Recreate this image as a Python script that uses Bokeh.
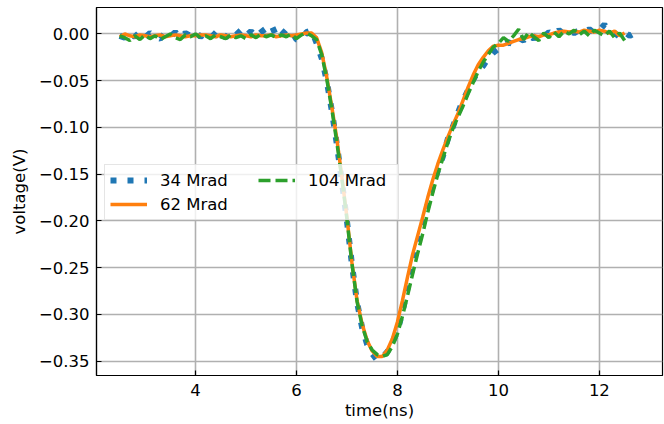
import numpy as np
from bokeh.plotting import figure
from bokeh.models import Range1d, FixedTicker, Legend, LegendItem
from bokeh.embed import file_html
from bokeh.resources import INLINE

# sampling grid (ns)
time_ns = np.round(np.arange(2.5, 12.75, 0.1), 2)

series_names = ["34 Mrad", "62 Mrad", "104 Mrad"]

v_34 = [
    -0.002, -0.004, 0.001, -0.003, 0.002, -0.004, 0.001, -0.003, -0.005, 0.001,
    -0.003, 0.002, -0.004, 0.001, -0.002, 0.002, -0.003, 0.001, 0.003, -0.002,
    0.002, -0.004, 0.003, -0.001, 0.004, -0.002, 0.003, -0.003, 0.002, 0.006,
    0.010, -0.002, 0.004, -0.001, 0.003, -0.006, -0.007, 0.002, 0.004, -0.010,
    -0.026, -0.050, -0.082, -0.118, -0.158, -0.200, -0.247, -0.287, -0.314, -0.332,
    -0.342, -0.349, -0.346, -0.340, -0.330, -0.318, -0.297, -0.272, -0.249, -0.226,
    -0.205, -0.183, -0.163, -0.146, -0.131, -0.112, -0.099, -0.084, -0.071, -0.060,
    -0.049, -0.040, -0.034, -0.026, -0.020, -0.016, -0.013, -0.009, -0.011, -0.004,
    -0.007, -0.001, -0.005, 0.001, -0.003, 0.002, -0.001, 0.004, 0.000, 0.003,
    0.001, 0.004, 0.002, 0.005, 0.001, 0.004, 0.010, 0.003, 0.001, -0.003,
    0.002, -0.002, 0.001,
]

v_62 = [
    -0.003, 0.000, -0.002, -0.003, -0.001, -0.002, -0.003, -0.002, -0.001, -0.003,
    -0.002, -0.001, -0.002, -0.003, -0.002, -0.002, -0.001, -0.001, -0.002, -0.003,
    -0.001, -0.002, -0.003, -0.002, -0.001, -0.002, -0.003, -0.001, -0.002, -0.002,
    -0.001, -0.003, -0.002, -0.001, -0.002, -0.001, 0.000, 0.001, 0.001, -0.004,
    -0.020, -0.046, -0.078, -0.112, -0.153, -0.196, -0.245, -0.285, -0.310, -0.328,
    -0.339, -0.345, -0.345, -0.338, -0.326, -0.308, -0.285, -0.260, -0.236, -0.216,
    -0.196, -0.175, -0.156, -0.139, -0.124, -0.110, -0.097, -0.085, -0.071, -0.057,
    -0.044, -0.033, -0.025, -0.018, -0.013, -0.012, -0.012, -0.010, -0.008, -0.006,
    -0.005, -0.003, -0.002, -0.003, -0.001, -0.001, 0.001, 0.002, 0.003, 0.002,
    0.003, 0.002, 0.004, 0.003, 0.002, 0.004, 0.003, 0.001, 0.003, -0.002,
    0.001,
]

v_104 = [
    -0.002, -0.004, -0.007, -0.002, -0.006, -0.001, -0.005, -0.002, -0.006, -0.003,
    0.000, -0.004, -0.006, -0.001, -0.003, 0.000, -0.004, -0.002, -0.005, -0.001,
    -0.003, -0.005, -0.001, -0.004, -0.002, -0.005, -0.001, -0.004, 0.000, -0.003,
    -0.001, -0.004, -0.001, -0.003, 0.000, -0.005, -0.001, 0.001, -0.002, -0.006,
    -0.022, -0.048, -0.080, -0.116, -0.155, -0.198, -0.246, -0.286, -0.312, -0.329,
    -0.338, -0.343, -0.345, -0.343, -0.334, -0.321, -0.302, -0.280, -0.257, -0.235,
    -0.214, -0.191, -0.170, -0.150, -0.133, -0.116, -0.101, -0.089, -0.077, -0.064,
    -0.052, -0.040, -0.030, -0.022, -0.014, -0.010, -0.004, -0.008, -0.002, 0.005,
    -0.006, 0.002, -0.003, -0.007, 0.001, -0.004, 0.002, -0.003, 0.003, 0.000,
    0.004, -0.001, 0.003, -0.002, 0.004, 0.001, -0.002, 0.003, -0.004, 0.001,
    -0.007,
]

x_ticks = [4, 6, 8, 10, 12]
y_ticks = [0.0, -0.05, -0.10, -0.15, -0.20, -0.25, -0.30, -0.35]
y_tick_labels = ["0.00", "\u22120.05", "\u22120.10", "\u22120.15", "\u22120.20",
                 "\u22120.25", "\u22120.30", "\u22120.35"]

colors = ["#1f77b4", "#ff7f0e", "#2ca02c"]
FONT = "DejaVu Sans"
FS = "16.5px"

p = figure(width=664, height=424, output_backend="svg", toolbar_location=None,
           x_range=Range1d(2.04, 13.25), y_range=Range1d(-0.3653, 0.0283),
           min_border_left=96, min_border_right=2, min_border_top=7,
           min_border_bottom=49)

r1 = p.line(time_ns[:len(v_34)], v_34, line_color=colors[0], line_width=6,
            line_dash="6 11")
r2 = p.line(time_ns[:len(v_62)], v_62, line_color=colors[1], line_width=3.5)
r3 = p.line(time_ns[:len(v_104)], v_104, line_color=colors[2], line_width=3.5,
            line_dash="12 5")

p.outline_line_color = "black"
p.outline_line_width = 1.2
p.outline_line_alpha = 1.0

for ax in (p.xaxis[0], p.yaxis[0]):
    ax.axis_line_color = "black"
    ax.axis_line_width = 1.2
    ax.major_tick_in = 5
    ax.major_tick_out = 0
    ax.major_tick_line_color = "black"
    ax.major_tick_line_width = 1.2
    ax.minor_tick_line_color = None
    ax.major_label_text_font = FONT
    ax.major_label_text_font_size = FS
    ax.major_label_text_color = "black"
    ax.axis_label_text_font = FONT
    ax.axis_label_text_font_size = FS
    ax.axis_label_text_font_style = "normal"
    ax.axis_label_text_color = "black"

p.xaxis.ticker = FixedTicker(ticks=x_ticks)
p.yaxis.ticker = FixedTicker(ticks=y_ticks)
p.yaxis.major_label_overrides = {t: l for t, l in zip(y_ticks, y_tick_labels)}
p.xaxis.axis_label = "time(ns)"
p.yaxis.axis_label = "voltage(V)"
p.xaxis.major_label_standoff = 8
p.yaxis.major_label_standoff = 7
p.xaxis.axis_label_standoff = 2
p.yaxis.axis_label_standoff = 7

p.xgrid.grid_line_color = "#b0b0b0"
p.ygrid.grid_line_color = "#b0b0b0"
p.xgrid.grid_line_width = 1.6
p.ygrid.grid_line_width = 1.6


def style_legend(lg):
    lg.label_text_font = FONT
    lg.label_text_font_size = FS
    lg.label_text_color = "black"
    lg.glyph_width = 37
    lg.glyph_height = 20
    lg.label_standoff = 13
    lg.label_height = 20
    lg.spacing = 4
    lg.padding = 5
    lg.margin = 0


# first column (framed box spanning both columns)
legend_a = Legend(items=[LegendItem(label=series_names[0], renderers=[r1]),
                         LegendItem(label=series_names[1], renderers=[r2])],
                  location=(8, 155))
style_legend(legend_a)
legend_a.label_width = 233
legend_a.border_line_color = "#cccccc"
legend_a.border_line_width = 1
legend_a.background_fill_alpha = 0.8
p.add_layout(legend_a, "center")

# second column
legend_b = Legend(items=[LegendItem(label=series_names[2], renderers=[r3])],
                  location=(162, 185))
style_legend(legend_b)
legend_b.border_line_color = None
legend_b.background_fill_alpha = 0.0
p.add_layout(legend_b, "center")

open("out.html", "w").write(file_html(p, INLINE))
